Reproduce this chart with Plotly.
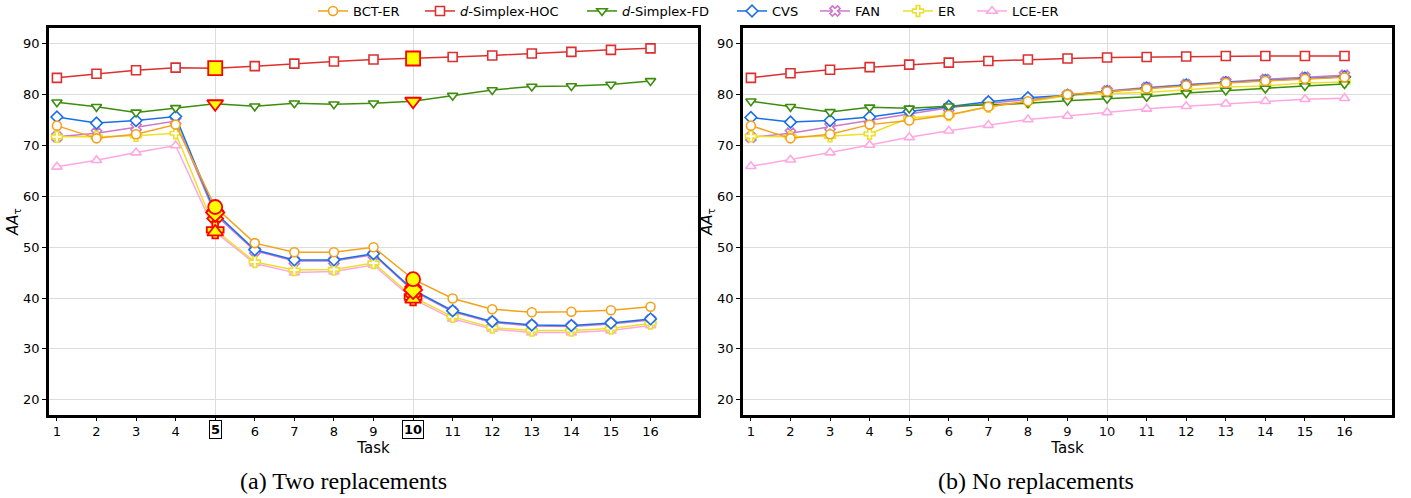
import plotly.graph_objects as go
from plotly.subplots import make_subplots

# ---- data -------------------------------------------------------------
tasks = list(range(1, 17))
highlight_tasks = [5, 10]
y_ticks = [20, 30, 40, 50, 60, 70, 80, 90]

# (a) two replacements
bct_a = [73.9, 71.4, 72.2, 74.1, 57.9, 50.8, 49.0, 49.0, 50.0, 43.7, 39.9, 37.8, 37.2, 37.3, 37.6, 38.3]
hoc_a = [83.3, 84.1, 84.8, 85.3, 85.2, 85.6, 86.1, 86.5, 86.9, 87.1, 87.4, 87.7, 88.1, 88.4, 88.8, 89.1]
fd_a = [78.5, 77.6, 76.5, 77.4, 78.2, 77.7, 78.3, 78.1, 78.3, 78.7, 79.8, 80.9, 81.6, 81.7, 82.0, 82.7]
cvs_a = [75.6, 74.4, 74.9, 75.7, 56.8, 49.5, 47.5, 47.5, 48.7, 41.6, 37.5, 35.4, 34.7, 34.6, 35.1, 35.9]
fan_a = [71.7, 72.4, 73.6, 74.8, 56.4, 49.3, 47.3, 47.3, 48.5, 41.4, 37.3, 35.2, 34.5, 34.4, 34.9, 35.7]
er_a = [71.7, 71.7, 71.9, 72.4, 53.4, 47.1, 45.5, 45.6, 46.9, 40.2, 36.3, 34.2, 33.6, 33.6, 34.0, 35.0]
lce_a = [65.8, 67.1, 68.6, 70.0, 53.0, 46.8, 45.0, 45.2, 46.5, 39.8, 35.9, 33.9, 33.2, 33.2, 33.6, 34.6]

# (b) no replacements
bct_b = [73.9, 71.4, 72.2, 74.1, 74.9, 76.0, 77.6, 78.7, 80.0, 80.6, 81.2, 81.8, 82.3, 82.7, 83.1, 83.4]
hoc_b = [83.3, 84.2, 84.9, 85.4, 85.9, 86.3, 86.6, 86.9, 87.1, 87.3, 87.4, 87.5, 87.6, 87.6, 87.6, 87.6]
fd_b = [78.7, 77.6, 76.6, 77.5, 77.3, 77.7, 78.0, 78.3, 78.8, 79.2, 79.6, 80.3, 80.8, 81.2, 81.7, 82.1]
cvs_b = [75.5, 74.6, 74.9, 75.6, 76.7, 77.7, 78.6, 79.4, 79.9, 80.6, 81.3, 81.9, 82.4, 82.8, 83.2, 83.5]
fan_b = [71.6, 72.4, 73.7, 75.0, 76.2, 77.4, 78.3, 79.0, 79.9, 80.7, 81.4, 82.0, 82.5, 83.0, 83.4, 83.8]
er_b = [71.8, 71.7, 71.8, 72.3, 75.4, 76.0, 77.6, 78.6, 79.8, 80.2, 80.4, 81.0, 81.5, 81.7, 82.3, 82.5]
lce_b = [65.9, 67.2, 68.6, 70.1, 71.6, 72.9, 74.0, 75.1, 75.8, 76.5, 77.2, 77.7, 78.2, 78.7, 79.1, 79.3]

# method styles: (name, colour, symbol, legend rank, legend entry width)
methods = {
    "bct": ("BCT-ER", "#f4a11c", "circle", 1, 62),
    "hoc": ("<i>d</i>-Simplex-HOC", "#dc2f2f", "square", 2, 117),
    "fd": ("<i>d</i>-Simplex-FD", "#3c8d0d", "triangle-down", 3, 105),
    "cvs": ("CVS", "#1a6fe8", "diamond", 4, 38),
    "fan": ("FAN", "#cc79c8", "x", 5, 38),
    "er": ("ER", "#ece02a", "cross", 6, 29),
    "lce": ("LCE-ER", "#ffa8e0", "triangle-up", 7, 52),
}
# drawing order (later on top)
draw_order = ["lce", "fan", "er", "cvs", "fd", "hoc", "bct"]
highlight_order = ["er", "fan", "lce", "cvs", "fd", "hoc", "bct"]
series_a = dict(bct=bct_a, hoc=hoc_a, fd=fd_a, cvs=cvs_a, fan=fan_a, er=er_a, lce=lce_a)
series_b = dict(bct=bct_b, hoc=hoc_b, fd=fd_b, cvs=cvs_b, fan=fan_b, er=er_b, lce=lce_b)

FONT = "DejaVu Sans"
L, R, T, B = 49, 19, 28, 83
PLOT_W = 1411 - L - R
PLOT_H = 498 - T - B

fig = make_subplots(rows=1, cols=2, horizontal_spacing=0.0335)

for col, series in ((1, series_a), (2, series_b)):
    for key in draw_order:
        name, color, symbol, rank, lw = methods[key]
        fig.add_trace(
            go.Scatter(
                x=tasks, y=series[key], mode="lines+markers", name=name,
                line=dict(color=color, width=1.5),
                marker=dict(symbol=symbol, size=9, color="white",
                            line=dict(color=color, width=1.6)),
                legendgroup=key, legendrank=rank, legendwidth=lw,
                showlegend=(col == 1),
            ),
            row=1, col=col,
        )

# emphasised points at the replacement tasks in panel (a)
for key in highlight_order:
    name, color, symbol, rank, lw = methods[key]
    ys = [series_a[key][t - 1] for t in highlight_tasks]
    fig.add_trace(
        go.Scatter(
            x=highlight_tasks, y=ys, mode="markers", showlegend=False,
            marker=dict(symbol=symbol, size=14, color="#ffff00",
                        line=dict(color="#ff0000", width=1.8)),
            hoverinfo="skip",
        ),
        row=1, col=1,
    )

ticktext_a = ["" if t in highlight_tasks else str(t) for t in tasks]
fig.update_xaxes(
    range=[0.8, 17.2], tickvals=tasks, showgrid=False, zeroline=False,
    showline=True, mirror=True, linecolor="black", linewidth=2.5,
    ticks="outside", ticklen=3, tickcolor="black", automargin=False,
    tickfont=dict(family=FONT, size=13, color="black"),
    title=dict(text="Task", font=dict(family=FONT, size=15, color="black"), standoff=0),
    minor=dict(tickvals=highlight_tasks, showgrid=True, gridcolor="#dcdcdc",
               gridwidth=1, ticks=""),
)
fig.update_xaxes(ticktext=ticktext_a, row=1, col=1)
fig.update_xaxes(ticktext=[str(t) for t in tasks], row=1, col=2)

fig.update_yaxes(
    range=[17.0, 93.1], tickvals=y_ticks, showgrid=True, gridcolor="#dcdcdc",
    gridwidth=1, zeroline=False, showline=True, mirror=True, linecolor="black",
    linewidth=2.5, ticks="outside", ticklen=4, tickcolor="black", automargin=False,
    tickfont=dict(family=FONT, size=13, color="black"),
    title=dict(text="<i>AA</i><sub>τ</sub>", font=dict(family=FONT, size=15, color="black"),
               standoff=1),
)

annotations = []
for t in highlight_tasks:
    annotations.append(dict(
        x=t, xref="x", y=0, yref="paper", yanchor="top", yshift=-5,
        text=f"<b>{t}</b>", showarrow=False,
        font=dict(family=FONT, size=13, color="black"),
        bordercolor="black", borderwidth=1, borderpad=1, bgcolor="white",
    ))

captions = [("(a) Two replacements", 343), ("(b) No replacements", 1036)]
for text, px in captions:
    annotations.append(dict(
        x=(px - L) / PLOT_W, xref="paper", y=-(481 - 498 + B) / PLOT_H, yref="paper",
        yanchor="middle", xanchor="center", text=text, showarrow=False,
        font=dict(family="Liberation Serif", size=24, color="black"),
    ))

fig.update_layout(
    width=1411, height=498,
    margin=dict(l=L, r=R, t=T, b=B, autoexpand=False),
    paper_bgcolor="white", plot_bgcolor="white",
    annotations=annotations,
    legend=dict(
        orientation="h", x=(313 - L) / PLOT_W, xanchor="left",
        y=1 + (T - 11) / PLOT_H, yanchor="middle",
        font=dict(family=FONT, size=13, color="black"),
        bgcolor="rgba(0,0,0,0)", itemwidth=30, tracegroupgap=0,
    ),
)

fig.write_html("out.html")
